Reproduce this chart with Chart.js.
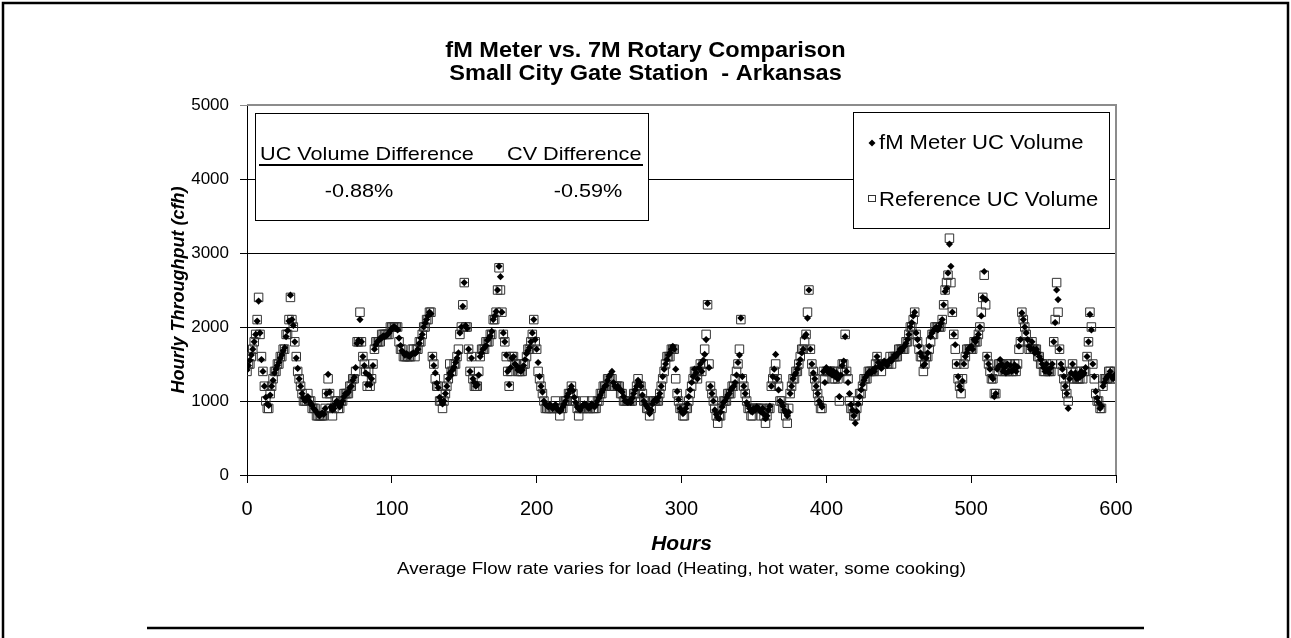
<!DOCTYPE html>
<html>
<head>
<meta charset="utf-8">
<script src="https://cdn.jsdelivr.net/npm/chart.js@4.4.1/dist/chart.umd.min.js"></script>
<style>
html,body{margin:0;padding:0;background:#fff;}
#wrap{width:1291px;height:638px;position:relative;overflow:hidden;}
canvas{display:block;}
</style>
</head>
<body>
<div id="wrap"><canvas id="c" width="1291" height="638"></canvas></div>
<script>
// ---------------- DATA ----------------
const titleLines = ["fM Meter vs. 7M Rotary Comparison", "Small City Gate Station  - Arkansas"];
const yAxisTitle = "Hourly Throughput (cfh)";
const xAxisTitle = "Hours";
const xSubTitle = "Average Flow rate varies for load (Heating, hot water, some cooking)";
const seriesNames = ["fM Meter UC Volume", "Reference UC Volume"];
const insetHeaders = ["UC Volume Difference", "CV Difference"];
const insetValues = ["-0.88%", "-0.59%"];
const xTicks = [0, 100, 200, 300, 400, 500, 600];
const yTicks = [0, 1000, 2000, 3000, 4000, 5000];

// fM meter hourly uncorrected volume (cfh), hours 0..599
const fmVolume = [
1420,1480,1550,1620,1700,1800,1900,2080,2350,1920,1560,1400,1200,1050,960,940,1080,1200,1280,1380,1430,1480,1520,1580,
1620,1680,1720,1870,1950,2080,2430,2100,2020,1800,1580,1440,1300,1200,1100,1040,1000,1020,1060,1000,960,940,900,880,
850,820,800,820,840,820,900,1100,1360,1120,920,880,900,960,1000,950,920,960,1000,1060,1100,1100,1120,1180,
1200,1280,1320,1450,1780,1820,2100,1800,1600,1480,1380,1220,1350,1220,1300,1480,1700,1760,1800,1820,1850,1850,1880,1870,
1880,1900,1920,1950,1980,2000,2000,1980,1960,1850,1750,1680,1650,1620,1640,1620,1600,1620,1640,1650,1640,1660,1700,1780,
1850,1900,2000,2050,2100,2150,2200,2180,1600,1480,1380,1240,1180,1050,1000,960,1000,1100,1200,1300,1380,1350,1420,1460,
1520,1580,1650,1920,2000,2280,2600,2020,1980,1700,1400,1580,1300,1250,1200,1220,1350,1600,1650,1700,1720,1750,1820,1850,
1880,1940,2100,2150,2210,2500,2820,2680,2200,1920,1800,1620,1400,1220,1450,1580,1600,1500,1480,1420,1440,1400,1420,1480,
1560,1640,1680,1720,1800,1920,2100,1830,1700,1520,1330,1200,1120,1000,960,940,920,950,930,900,920,950,900,880,
860,880,920,960,1000,1060,1100,1150,1200,1140,1050,980,920,900,880,920,940,960,950,930,900,920,960,940,
920,950,1000,1040,1080,1120,1160,1200,1210,1280,1330,1360,1400,1250,1200,1180,1200,1160,1150,1120,1060,1000,990,980,
1000,980,1040,1100,1150,1200,1280,1250,1200,1080,1000,960,930,900,830,880,960,1000,1020,1000,1050,1100,1200,1330,
1430,1500,1560,1620,1650,1700,1740,1700,1430,1130,1020,900,860,830,850,900,960,1060,1150,1250,1330,1430,1380,1300,
1450,1500,1400,1550,1630,1830,2320,1450,1200,1100,1000,880,820,780,760,850,920,980,1000,1040,1080,1100,1150,1180,
1200,1250,1350,1520,1620,2120,1330,1200,1100,980,940,900,860,850,900,880,920,900,880,850,900,820,760,800,
880,930,1200,1330,1430,1630,1300,1150,1000,980,930,880,840,800,850,1100,1200,1300,1350,1380,1430,1500,1560,1650,
1700,1870,1900,2120,2500,1700,1500,1380,1300,1200,1100,1000,960,920,1400,1250,1450,1400,1380,1420,1350,1400,1330,1380,
1300,1060,1350,1480,1540,1870,1400,1250,1100,950,880,800,700,860,960,1060,1150,1220,1280,1320,1350,1380,1400,1380,
1420,1400,1450,1600,1520,1480,1440,1500,1540,1520,1480,1520,1560,1540,1580,1620,1600,1640,1650,1700,1680,1720,1740,1780,
1830,1900,2000,2060,2150,2200,1920,1830,1740,1650,1600,1480,1500,1580,1650,1740,1870,1920,1950,1980,2000,1960,2000,2050,
2100,2300,2480,2520,2730,3120,2820,2200,1900,1760,1500,1330,1200,1150,1270,1500,1600,1650,1700,1720,1740,1700,1830,1800,
1850,1900,2000,2150,2400,2750,2370,1600,1500,1430,1330,1300,1060,1100,1430,1470,1560,1500,1400,1450,1380,1500,1400,1480,
1400,1420,1490,1400,1460,1740,1830,2190,2100,2000,1920,1830,1740,1700,1800,1700,1650,1700,1650,1600,1560,1500,1450,1400,
1500,1420,1380,1450,1500,1800,2060,2500,2370,1700,1500,1430,1330,1200,1100,900,1300,1380,1500,1350,1380,1300,1350,1320,
1400,1350,1380,1450,1600,1800,2170,1960,1500,1330,1130,1040,980,900,930,1200,1250,1300,1330,1350,1400,1330,1300,1350
];

// Reference (7M rotary) hourly uncorrected volume (cfh), hours 0..599
const refVolume = [
1400,1500,1500,1600,1700,1800,1900,2100,2400,1900,1600,1400,1200,1000,900,900,1100,1200,1300,1400,1400,1500,1500,1600,
1600,1700,1700,1900,1900,2100,2400,2100,2000,1800,1600,1400,1300,1200,1100,1000,1000,1000,1100,1000,1000,900,900,900,
800,800,800,800,800,800,900,1100,1300,1100,900,800,900,1000,1000,900,900,1000,1000,1100,1100,1100,1100,1200,
1200,1300,1300,1400,1800,1800,2200,1800,1600,1500,1400,1200,1400,1200,1300,1500,1700,1800,1800,1800,1800,1900,1900,1900,
1900,1900,1900,2000,2000,2000,2000,2000,2000,1800,1700,1700,1600,1600,1600,1600,1600,1600,1700,1700,1600,1700,1700,1800,
1800,1900,2000,2000,2100,2100,2200,2200,1600,1500,1300,1200,1200,1000,1000,900,1000,1100,1200,1300,1500,1400,1400,1500,
1500,1600,1700,1900,2000,2300,2600,2000,2000,1700,1400,1600,1300,1200,1200,1200,1400,1600,1700,1700,1700,1800,1800,1800,
1900,1900,2100,2100,2200,2500,2800,2500,2200,1900,1800,1600,1400,1200,1400,1600,1600,1500,1500,1400,1400,1400,1400,1500,
1500,1600,1700,1700,1800,1900,2100,1800,1700,1400,1300,1200,1100,1000,900,900,900,900,900,900,900,1000,900,900,
800,900,900,1000,1000,1000,1100,1100,1200,1100,1000,1000,900,800,900,900,900,1000,900,900,900,900,1000,900,
900,900,1000,1000,1100,1100,1200,1200,1200,1300,1300,1300,1300,1200,1200,1200,1200,1200,1100,1100,1000,1000,1000,1000,
1000,1000,1000,1100,1100,1200,1300,1200,1200,1100,1000,1000,900,900,800,900,1000,1000,1000,1000,1000,1100,1200,1300,
1400,1500,1600,1600,1600,1700,1700,1700,1300,1100,1000,900,900,800,800,900,900,1000,1100,1200,1300,1400,1400,1300,
1400,1500,1400,1500,1700,1900,2300,1500,1200,1100,1000,900,800,700,800,800,900,1000,1000,1000,1100,1100,1100,1200,
1200,1300,1400,1500,1700,2100,1300,1200,1100,1000,900,900,800,800,900,900,900,900,900,800,900,800,700,800,
900,900,1200,1300,1400,1500,1300,1200,1000,1000,900,900,800,700,900,1100,1200,1300,1300,1400,1400,1500,1600,1700,
1700,1800,1900,2200,2500,1700,1500,1400,1300,1200,1100,1000,900,900,1400,1300,1400,1400,1400,1400,1300,1400,1300,1400,
1300,1000,1400,1500,1500,1900,1400,1300,1000,900,900,800,800,900,1000,1100,1100,1200,1300,1300,1300,1400,1400,1400,
1400,1400,1500,1600,1500,1500,1400,1500,1500,1500,1500,1500,1600,1500,1600,1600,1600,1600,1700,1700,1700,1700,1700,1800,
1800,1900,2000,2000,2100,2200,1900,1800,1700,1600,1600,1400,1500,1600,1600,1700,1800,1900,1900,2000,2000,2000,2000,2000,
2100,2300,2500,2600,2700,3200,2600,2200,1900,1700,1500,1300,1200,1100,1300,1500,1600,1700,1700,1700,1700,1700,1800,1800,
1800,1900,2000,2200,2400,2700,2300,1600,1500,1400,1300,1300,1100,1100,1400,1500,1500,1500,1400,1400,1400,1500,1400,1500,
1400,1400,1500,1400,1500,1700,1800,2200,2100,2000,1900,1800,1700,1700,1800,1700,1700,1700,1600,1600,1500,1500,1400,1400,
1500,1400,1400,1400,1500,1800,2100,2600,2200,1700,1500,1400,1300,1200,1100,1000,1300,1400,1500,1300,1400,1300,1300,1300,
1400,1300,1400,1400,1600,1800,2200,2000,1500,1300,1100,1000,1000,900,900,1200,1300,1300,1300,1400,1400,1300,1300,1400
];

// hour index of each reading
const hours = fmVolume.map((_, i) => i);

// ---------------- CHART ----------------
const FONT = "'Liberation Sans', Arial, Helvetica, sans-serif";

function sText(ctx, txt, x, y, font, align, sx) {
  ctx.save();
  ctx.font = font;
  ctx.fillStyle = '#000';
  ctx.textBaseline = 'alphabetic';
  const w = ctx.measureText(txt).width * sx;
  let left = x;
  if (align === 'center') left = x - w / 2;
  else if (align === 'right') left = x - w;
  ctx.translate(left, y);
  ctx.scale(sx, 1);
  ctx.textAlign = 'left';
  ctx.fillText(txt, 0, 0);
  ctx.restore();
}

const decor = {
  id: 'decor',
  afterDraw(chart) {
    const ctx = chart.ctx;
    const a = chart.chartArea;
    ctx.save();
    // plot area border (top/right, gray)
    ctx.strokeStyle = '#8c8c8c';
    ctx.lineWidth = 2;
    ctx.beginPath();
    ctx.moveTo(a.left, a.top);
    ctx.lineTo(a.right, a.top);
    ctx.lineTo(a.right, a.bottom);
    ctx.stroke();

    // outer frame
    ctx.strokeStyle = '#000';
    ctx.lineWidth = 2.5;
    ctx.strokeRect(3, 3, 1285, 660);

    // titles
    sText(ctx, titleLines[0], 645.5, 57, "bold 22px " + FONT, 'center', 1.07);
    sText(ctx, titleLines[1], 645.5, 80, "bold 22px " + FONT, 'center', 1.07);

    // y axis title
    ctx.save();
    ctx.translate(184, (a.top + a.bottom) / 2);
    ctx.rotate(-Math.PI / 2);
    ctx.font = "italic bold 18px " + FONT;
    ctx.fillStyle = '#000';
    ctx.textAlign = 'center';
    ctx.textBaseline = 'alphabetic';
    ctx.fillText(yAxisTitle, 0, 0);
    ctx.restore();

    // x axis title and subtitle
    const cx = (a.left + a.right) / 2;
    sText(ctx, xAxisTitle, cx, 550, "italic bold 21px " + FONT, 'center', 1.0);
    sText(ctx, xSubTitle, cx, 574, "16px " + FONT, 'center', 1.17);

    // bottom rule
    ctx.strokeStyle = '#000';
    ctx.lineWidth = 2.5;
    ctx.beginPath();
    ctx.moveTo(147, 628);
    ctx.lineTo(1144, 628);
    ctx.stroke();

    // inset box
    ctx.fillStyle = '#fff';
    ctx.fillRect(255, 113, 393, 107);
    ctx.strokeStyle = '#000';
    ctx.lineWidth = 1;
    ctx.strokeRect(255.5, 113.5, 393, 107);
    const iFont = "19px " + FONT;
    sText(ctx, insetHeaders[0], 260, 160, iFont, 'left', 1.14);
    sText(ctx, insetHeaders[1], 507, 160, iFont, 'left', 1.14);
    ctx.lineWidth = 2;
    ctx.beginPath();
    ctx.moveTo(259, 165);
    ctx.lineTo(643, 165);
    ctx.stroke();
    sText(ctx, insetValues[0], 359, 197, iFont, 'center', 1.14);
    sText(ctx, insetValues[1], 588, 197, iFont, 'center', 1.14);

    // legend box
    ctx.fillStyle = '#fff';
    ctx.fillRect(853, 112, 256, 116);
    ctx.lineWidth = 1;
    ctx.strokeStyle = '#000';
    ctx.strokeRect(853.5, 112.5, 256, 116);
    const lFont = "21px " + FONT;
    // diamond marker
    ctx.fillStyle = '#000';
    ctx.beginPath();
    ctx.moveTo(872, 139.5);
    ctx.lineTo(875.5, 143);
    ctx.lineTo(872, 146.5);
    ctx.lineTo(868.5, 143);
    ctx.closePath();
    ctx.fill();
    sText(ctx, seriesNames[0], 879, 149, lFont, 'left', 1.05);
    // square marker
    ctx.strokeStyle = '#333';
    ctx.lineWidth = 1;
    ctx.strokeRect(868.5, 195.5, 7, 6);
    sText(ctx, seriesNames[1], 879, 206, lFont, 'left', 1.05);
    ctx.restore();
  }
};

new Chart(document.getElementById('c'), {
  type: 'scatter',
  data: {
    datasets: [
      {
        label: seriesNames[0],
        data: fmVolume.map((v, i) => ({ x: hours[i], y: v })),
        pointStyle: 'rectRot',
        pointRadius: 3.6,
        pointHoverRadius: 3.6,
        backgroundColor: '#000',
        borderColor: '#000',
        borderWidth: 0,
        order: 0
      },
      {
        label: seriesNames[1],
        data: refVolume.map((v, i) => ({ x: hours[i], y: v })),
        pointStyle: 'rect',
        pointRadius: 6,
        pointHoverRadius: 6,
        backgroundColor: 'rgba(0,0,0,0)',
        borderColor: '#333',
        borderWidth: 1,
        order: 1
      }
    ]
  },
  options: {
    responsive: false,
    animation: false,
    events: [],
    layout: { padding: { left: 0, right: 175, top: 105, bottom: 0 } },
    plugins: { legend: { display: false }, tooltip: { enabled: false }, title: { display: false } },
    scales: {
      x: {
        type: 'linear',
        min: xTicks[0],
        max: xTicks[xTicks.length - 1],
        afterBuildTicks: s => { s.ticks = xTicks.map(v => ({ value: v })); },
        afterFit: s => { s.height = 163; },
        ticks: { font: { family: FONT, size: 20 }, color: '#000', padding: 14, maxRotation: 0, autoSkip: false, callback: v => String(v) },
        grid: { drawOnChartArea: false, drawTicks: true, tickLength: 8, color: '#000', lineWidth: 1 },
        border: { display: true, color: '#000', width: 1 }
      },
      y: {
        type: 'linear',
        min: yTicks[0],
        max: yTicks[yTicks.length - 1],
        afterBuildTicks: s => { s.ticks = yTicks.map(v => ({ value: v })); },
        afterFit: s => { s.width = 247; },
        ticks: { font: { family: FONT, size: 17 }, color: '#000', padding: 11, autoSkip: false, callback: v => String(v) },
        grid: {
          drawOnChartArea: true, drawTicks: true, tickLength: 7, lineWidth: 1,
          color: c => (c.tick && c.tick.value === 5000) ? '#8c8c8c' : '#000'
        },
        border: { display: true, color: '#000', width: 1 }
      }
    }
  },
  plugins: [decor]
});
</script>
</body>
</html>
